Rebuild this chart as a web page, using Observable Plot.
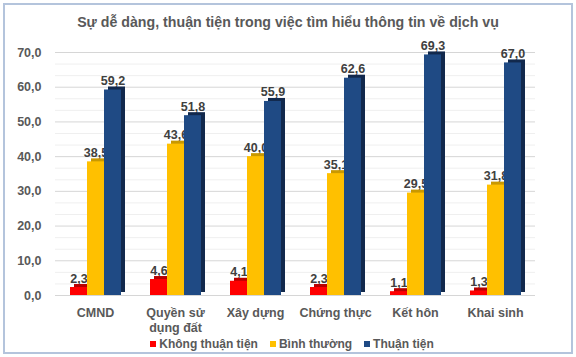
<!DOCTYPE html>
<html>
<head>
<meta charset="utf-8">
<script src="https://cdn.jsdelivr.net/npm/d3@7"></script>
<script src="https://cdn.jsdelivr.net/npm/@observablehq/plot@0.6"></script>
<style>
  html, body { margin: 0; padding: 0; background: #fff; }
  #wrap { position: relative; width: 576px; height: 357px; overflow: hidden; background: #fff;
          font-family: "Liberation Sans", Arial, sans-serif; }
  #border { position: absolute; left: 3px; top: 3px; right: 3px; bottom: 3px;
            border: 2px solid #b4c4dc; pointer-events: none; }
  #title { height: 38px; box-sizing: border-box; padding-top: 12px; line-height: 20px;
           text-align: center; font-size: 14.2px; font-weight: bold; color: #595959; }
  #chart svg { display: block; }
  #legend { position: relative; margin-top: -8px; height: 27px; display: flex; justify-content: center; align-items: center;
            font-size: 12px; font-weight: bold; color: #595959; gap: 12px; padding-left: 8px; }
  .item { display: flex; align-items: center; }
  .sw { width: 6px; height: 6px; margin-right: 3px; }
</style>
</head>
<body>
<div id="wrap">
  <div id="title">Sự dễ dàng, thuận tiện trong việc tìm hiểu thông tin về dịch vụ</div>
  <div id="chart"></div>
  <div id="legend"></div>
  <div id="border"></div>
</div>
<script>
const categories = ["CMND", "Quyền sử\ndụng đất", "Xây dựng", "Chứng thực", "Kết hôn", "Khai sinh"];
const series = ["Không thuận tiện", "Bình thường", "Thuận tiện"];
const khongThuanTien = [2.3, 4.6, 4.1, 2.3, 1.1, 1.3];
const binhThuong = [38.5, 43.6, 40.0, 35.1, 29.5, 31.8];
const thuanTien = [59.2, 51.8, 55.9, 62.6, 69.3, 67.0];
const yTicks = [0, 10, 20, 30, 40, 50, 60, 70];
const yMinorTicks = [3.33, 6.67, 13.33, 16.67, 23.33, 26.67, 33.33, 36.67, 43.33, 46.67, 53.33, 56.67, 63.33, 66.67];

const colors = ["#ff0000", "#ffc000", "#1f4a84"];
const sideColors = ["#b80000", "#c99800", "#12294d"];

const values = [khongThuanTien, binhThuong, thuanTien];
const data = categories.flatMap((c, i) => series.map((s, j) => ({category: c, series: s, value: values[j][i], k: j})));

const fmt = v => d3.format(".1f")(v).replace(".", ",");

const chart = Plot.plot({
  width: 576,
  height: 300,
  marginTop: 14,
  marginBottom: 43,
  marginLeft: 55,
  marginRight: 41,
  style: {fontFamily: "'Liberation Sans', Arial, sans-serif", fontWeight: "bold", fontSize: "12px", color: "#595959", background: "transparent"},
  fx: {domain: categories, padding: 0, label: null},
  x: {domain: series, paddingInner: 0, paddingOuter: 0.81, axis: null},
  y: {domain: [0, 70], label: null},
  color: {domain: series, range: colors},
  marks: [
    Plot.ruleY(yMinorTicks, {stroke: "#efefef"}),
    Plot.ruleY(yTicks, {stroke: "#d6d6d6"}),
    Plot.axisY(yTicks, {tickSize: 0, tickPadding: 14, tickFormat: fmt, label: null, fill: "#595959", fontSize: 12.5}),
    Plot.axisFx({anchor: "bottom", tickSize: 0, tickPadding: 10, label: null, lineHeight: 1.25, fill: "#595959", fontSize: 12.5}),
    Plot.text(data, {fx: "category", x: "series", y: "value", text: d => fmt(d.value), dy: -9, fill: "#404040", fontSize: 12.5}),
    Plot.barY(data, {fx: "category", x: "series", y: "value", fill: d => sideColors[d.k], dx: 4, dy: -3}),
    Plot.barY(data, {fx: "category", x: "series", y: "value", fill: "series"})
  ]
});
document.getElementById("chart").appendChild(chart);

const legend = document.getElementById("legend");
series.forEach((s, i) => {
  const it = document.createElement("div");
  it.className = "item";
  const sw = document.createElement("div");
  sw.className = "sw";
  sw.style.background = colors[i];
  const t = document.createElement("span");
  t.textContent = s;
  it.appendChild(sw);
  it.appendChild(t);
  legend.appendChild(it);
});
</script>
</body>
</html>
